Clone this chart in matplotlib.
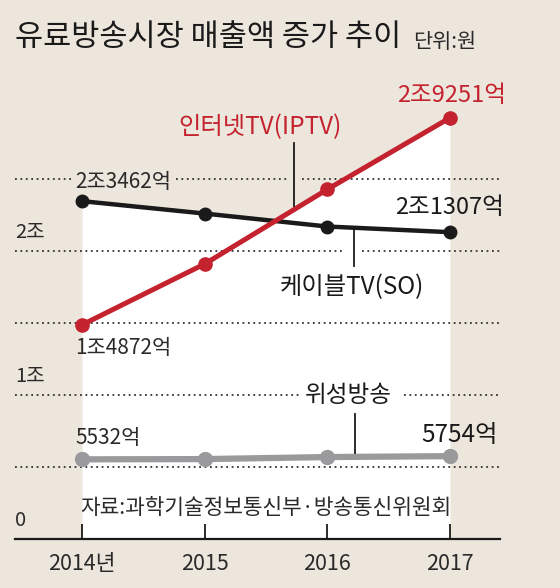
import numpy as np
import matplotlib
matplotlib.use("Agg")
import matplotlib.pyplot as plt

plt.rcParams['font.family'] = ['Noto Sans CJK KR', 'DejaVu Sans']

years = [2014, 2015, 2016, 2017]
year_labels = ['2014년', '2015', '2016', '2017']
iptv = [14872, 19100, 24280, 29251]
cable = [23462, 22600, 21700, 21307]
satellite = [5532, 5550, 5690, 5754]
yticks_vals = [0, 10000, 20000]
yticks_labels = ['0', '1조', '2조']
grid_vals = [5000, 10000, 15000, 20000, 25000]

BG = '#ece6dc'
RED = '#c4222e'
BLACK = '#1a1a1a'
GRAY = '#9a9a9c'
TXT = '#2a2a2a'

W, H = 560, 588
fig = plt.figure(figsize=(W / 100, H / 100), dpi=100, facecolor=BG)

ppy = 360 / 25000.0
ax_left_px, ax_right_px = 15, 500
ax_bot_px, ax_top_px = 539, 100
ax = fig.add_axes([ax_left_px / W, (H - ax_bot_px) / H,
                   (ax_right_px - ax_left_px) / W, (ax_bot_px - ax_top_px) / H])
ax.set_facecolor('none')
pxx = 368 / 3.0
xmin = 2014 - (82 - ax_left_px) / pxx
xmax = 2017 + (ax_right_px - 450) / pxx
ax.set_xlim(xmin, xmax)
ax.set_ylim(0, (ax_bot_px - ax_top_px) / ppy)

def px2x(px):
    return 2014 + (px - 82) / pxx

def py2y(py):
    return (ax_bot_px - py) / ppy

# white area under the upper envelope of the two top lines
xs = np.linspace(years[0], years[-1], 601)
env = np.maximum(np.interp(xs, years, iptv), np.interp(xs, years, cable))
ax.fill_between(xs, 0, env, color='white', zorder=1, lw=0)

# dotted gridlines with gaps
gaps = {
    25000: [(72, 176), (287, 302)],
    20000: [(345, 362)],
    10000: [(300, 404)],
}
for g in grid_vals:
    segs = []
    start = ax_left_px
    for a, b in gaps.get(g, []):
        segs.append((start, a))
        start = b
    segs.append((start, ax_right_px))
    for a, b in segs:
        ax.plot([px2x(a), px2x(b)], [g, g], color='#333333', lw=1.3,
                linestyle=(0, (1, 2)), zorder=2, solid_capstyle='butt')

# lines
ax.plot(years, satellite, color=GRAY, lw=4.5, marker='o', ms=10, zorder=3)
ax.plot(years, cable, color=BLACK, lw=3.2, marker='o', ms=9, zorder=4)
ax.plot(years, iptv, color=RED, lw=3.6, marker='o', ms=9.5, zorder=5)

# axes styling
for s in ['left', 'right', 'top']:
    ax.spines[s].set_visible(False)
ax.spines['bottom'].set_color(BLACK)
ax.spines['bottom'].set_linewidth(1.6)
ax.spines['bottom'].set_zorder(6)
ax.set_yticks([])
ax.set_xticks(years)
ax.set_xticklabels(year_labels, fontsize=15.5, color=TXT)
ax.tick_params(axis='x', direction='in', length=11, width=1.3, color=BLACK, pad=10)
for t in ax.get_xticklines():
    t.set_zorder(6)

for v, lab in zip(yticks_vals, yticks_labels):
    ax.text(xmin, v + 1300, lab, fontsize=14.5, color=TXT, ha='left', va='center', zorder=7)

# value labels
ax.text(px2x(75), py2y(182), '2조3462억', fontsize=15, color=TXT, ha='left', va='center', zorder=7)
ax.text(px2x(75), py2y(348), '1조4872억', fontsize=15, color=TXT, ha='left', va='center', zorder=7)
ax.text(px2x(75), py2y(438), '5532억', fontsize=15, color=TXT, ha='left', va='center', zorder=7)
ax.text(px2x(452), py2y(95), '2조9251억', fontsize=17, color=RED, ha='center', va='center', zorder=7)
ax.text(px2x(450), py2y(208), '2조1307억', fontsize=17, color=BLACK, ha='center', va='center', zorder=7)
ax.text(px2x(498), py2y(435), '5754억', fontsize=17.5, color=BLACK, ha='right', va='center',
        fontweight='medium', zorder=7)

# series labels with leader lines
ax.text(px2x(260), py2y(127), '인터넷TV(IPTV)', fontsize=17.5, color=RED, ha='center', va='center', zorder=7)
ax.plot([px2x(294), px2x(294)], [py2y(143), py2y(206)], color=BLACK, lw=1.3, zorder=6)
ax.text(px2x(352), py2y(287), '케이블TV(SO)', fontsize=17.5, color=BLACK, ha='center', va='center', zorder=7)
ax.plot([px2x(354), px2x(354)], [py2y(227), py2y(266)], color=BLACK, lw=1.3, zorder=6)
ax.text(px2x(348), py2y(395), '위성방송', fontsize=17, color=BLACK, ha='center', va='center',
        fontweight='medium', zorder=7)
ax.plot([px2x(355), px2x(355)], [py2y(414), py2y(453)], color=BLACK, lw=1.3, zorder=6)

# source
ax.text(px2x(80), py2y(508), '자료:과학기술정보통신부·방송통신위원회', fontsize=15.4, color=TXT,
        ha='left', va='center', zorder=7)

# title
fig.text(15 / W, 1 - 38 / H, '유료방송시장 매출액 증가 추이', fontsize=22, color=BLACK,
         ha='left', va='center', fontweight='medium')
fig.text(413 / W, 1 - 42 / H, '단위:원', fontsize=15, color=TXT, ha='left', va='center')

fig.savefig('out.png', dpi=100, facecolor=BG)
